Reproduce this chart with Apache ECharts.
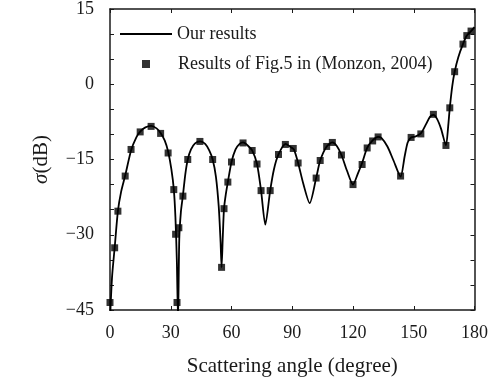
<!DOCTYPE html>
<html>
<head>
<meta charset="utf-8">
<script src="https://cdn.jsdelivr.net/npm/echarts@6/dist/echarts.min.js"></script>
<style>
html, body { margin: 0; padding: 0; background: #fff; }
#chart { width: 491px; height: 383px; }
</style>
</head>
<body>
<div id="chart"></div>
<script>
// computed curve ("Our results")
const lineAngle = [0, 1, 2.3, 3.9, 5.5, 7.5, 10.4, 13, 15, 17.5, 20.3, 23, 25, 27, 28.7, 30.3, 31.5, 32.3, 33, 33.6,
  34.2, 35, 36, 37.2, 38.4, 40, 42, 44.5, 47, 49, 50.7, 52.3, 53.7, 54.6, 55.1, 55.7, 56.3, 57.2, 58.2, 60,
  62, 64, 65.7, 68, 70.2, 72.6, 74.6, 76.7, 79.1, 81, 83.2, 86.7, 89.2, 90.8, 92.9, 95.5, 98.6, 101.8, 103.8, 107,
  109.8, 112, 114.3, 117, 120, 122.5, 124.5, 127, 129.7, 132.4, 134, 137, 140, 143.5, 145.5, 147, 148.7, 151, 153.5, 156,
  158, 159.7, 161.5, 163.5, 165.9, 167, 167.8, 169, 170.2, 172, 174.3, 176.2, 178.3, 180];
const lineDb = [-47, -38.5, -32.6, -25.3, -21.4, -18.2, -13.2, -10.6, -9.4, -8.6, -8.3, -8.8, -9.7, -11.2, -13.4, -16.9, -20.9, -26.4, -35, -47,
  -31, -25.5, -22.2, -17.9, -15.0, -13.0, -11.8, -11.4, -11.9, -13.2, -15.0, -18.4, -24.4, -31.4, -36.5, -30.4, -24.8, -21.9, -19.5, -15.5,
  -13.0, -11.9, -11.6, -12.2, -13.2, -15.9, -21.2, -28.0, -21.2, -16.9, -14.0, -11.9, -12.5, -13.0, -15.7, -19.9, -23.7, -18.7, -15.2, -12.4,
  -11.6, -12.3, -14.1, -17.2, -20.0, -17.7, -15.7, -12.7, -11.2, -10.5, -10.7, -12.4, -15.2, -18.4, -14.4, -11.6, -10.6, -10.4, -9.8, -8.0,
  -6.5, -6.1, -6.9, -8.9, -12.2, -8.4, -4.7, -0.4, 2.5, 5.4, 8.0, 9.7, 10.6, 11.4];

// reference points (Monzon, 2004)
const refAngle = [0, 2.3, 3.9, 7.5, 10.4, 14.9, 20.3, 25, 28.7, 31.5, 32.4, 33.1, 34, 36, 38.4, 44.4, 50.7, 55.1, 56.3, 58.2,
  60, 65.7, 70.2, 72.6, 74.6, 79.1, 83.2, 86.6, 90.5, 92.9, 101.8, 103.8, 107, 109.8, 114.3, 120, 124.5, 127, 129.7, 132.4,
  143.5, 148.7, 153.5, 159.7, 165.9, 167.8, 170.2, 174.3, 176.2, 178.3];
const refDb = [-43.5, -32.6, -25.3, -18.3, -13.0, -9.5, -8.4, -9.8, -13.7, -21.0, -29.9, -43.5, -28.6, -22.3, -15.0, -11.4, -15.0, -36.5, -24.8, -19.5,
  -15.5, -11.7, -13.2, -15.9, -21.2, -21.2, -14.0, -12.0, -12.8, -15.7, -18.7, -15.2, -12.4, -11.6, -14.1, -20.0, -16.0, -12.7, -11.3, -10.5,
  -18.3, -10.6, -9.9, -6.0, -12.2, -4.7, 2.5, 8.0, 9.7, 10.6];

const xTicks = [0, 30, 60, 90, 120, 150, 180];
const yTicks = [-45, -30, -15, 0, 15];

const lineName = 'Our results';
const refName = 'Results of Fig.5 in (Monzon, 2004)';

const font = "'Liberation Serif', 'Times New Roman', serif";
const ink = '#1a1a1a';

const chart = echarts.init(document.getElementById('chart'));

const xMin = xTicks[0], xMax = xTicks[xTicks.length - 1], xStep = xTicks[1] - xTicks[0];
const yMin = yTicks[0], yMax = yTicks[yTicks.length - 1], yStep = yTicks[1] - yTicks[0];

const minus = v => (v < 0 ? '\u2212' + Math.abs(v) : String(v));

const boxAxis = {
  axisLine: { show: true, onZero: false, lineStyle: { color: ink, width: 1.5 } },
  splitLine: { show: false }
};

const option = {
  animation: false,
  backgroundColor: '#fff',
  grid: { left: 110, right: 11, top: 7, bottom: 73 },
  legend: [
    {
      data: [lineName],
      left: 120, top: 25, padding: 0,
      icon: 'rect',
      itemWidth: 52, itemHeight: 2,
      itemStyle: { color: '#000' },
      textStyle: { fontFamily: font, fontSize: 18, color: ink }
    },
    {
      data: [refName],
      left: 142, top: 55, padding: 0,
      icon: 'rect',
      itemWidth: 8, itemHeight: 8,
      textStyle: { fontFamily: font, fontSize: 18, color: ink, padding: [0, 0, 0, 23] }
    }
  ],
  xAxis: [
    Object.assign({
      type: 'value', min: xMin, max: xMax, interval: xStep,
      name: 'Scattering angle (degree)',
      nameLocation: 'middle', nameGap: 46,
      nameTextStyle: { fontFamily: font, fontSize: 21, color: ink },
      axisTick: { inside: true, length: 4, lineStyle: { color: ink } },
      axisLabel: { fontFamily: font, fontSize: 18, color: ink, margin: 14 }
    }, boxAxis),
    Object.assign({
      type: 'value', min: xMin, max: xMax, interval: xStep, position: 'top',
      axisTick: { inside: true, length: 4, lineStyle: { color: ink } },
      axisLabel: { show: false }
    }, boxAxis)
  ],
  yAxis: [
    Object.assign({
      type: 'value', min: yMin, max: yMax, interval: yStep,
      name: '{i|\u03c3}(dB)',
      nameLocation: 'middle', nameGap: 58, nameRotate: 90,
      nameTextStyle: {
        fontFamily: font, fontSize: 21, color: ink,
        rich: { i: { fontFamily: font, fontSize: 21, fontStyle: 'italic', color: ink } }
      },
      axisTick: { inside: true, length: 4, lineStyle: { color: ink } },
      minorTick: { show: true, splitNumber: 3, length: 4, lineStyle: { color: ink } },
      axisLabel: { fontFamily: font, fontSize: 18, color: ink, margin: 16, formatter: minus }
    }, boxAxis),
    Object.assign({
      type: 'value', min: yMin, max: yMax, interval: yStep, position: 'right',
      axisTick: { inside: true, length: 4, lineStyle: { color: ink } },
      minorTick: { show: true, splitNumber: 3, length: 4, lineStyle: { color: ink } },
      axisLabel: { show: false }
    }, boxAxis)
  ],
  series: [
    {
      name: lineName,
      type: 'line',
      data: lineAngle.map((a, i) => [a, lineDb[i]]),
      symbol: 'none',
      smooth: 0.25,
      clip: true,
      lineStyle: { color: '#000', width: 1.8 },
      itemStyle: { color: '#000' }
    },
    {
      name: refName,
      type: 'scatter',
      data: refAngle.map((a, i) => [a, refDb[i]]),
      symbol: 'rect',
      symbolSize: 7,
      itemStyle: { color: '#000' },
      z: 3
    }
  ]
};

chart.setOption(option);
</script>
</body>
</html>
